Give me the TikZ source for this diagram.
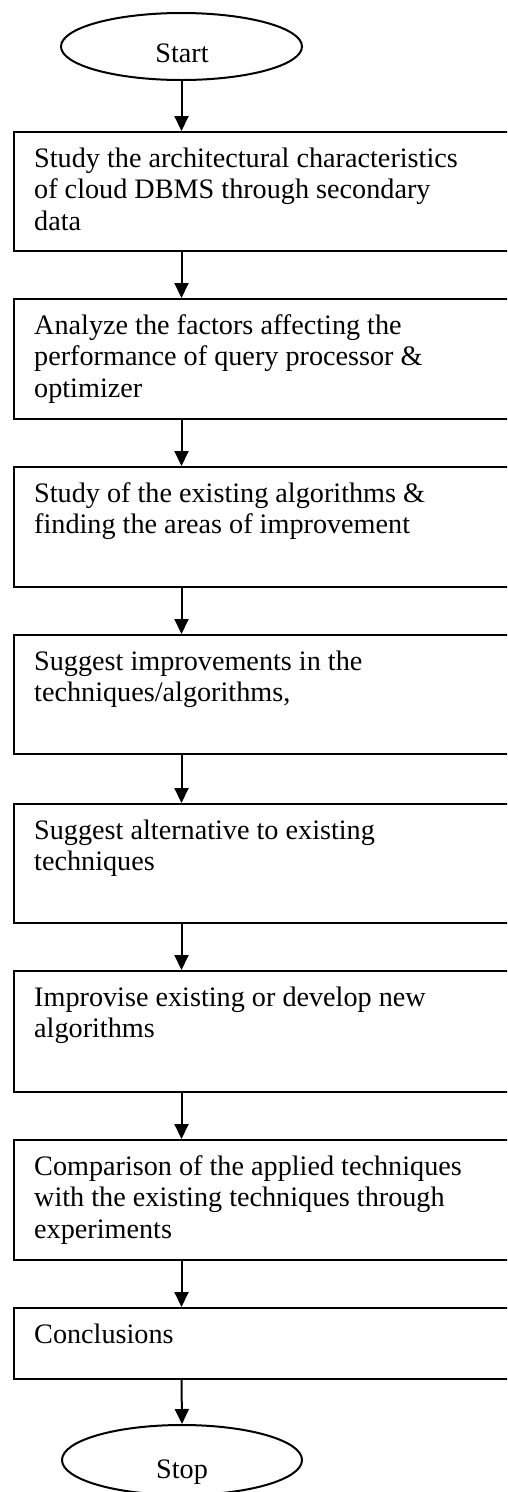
\documentclass[tikz,border=0pt]{standalone}
\usepackage{fontspec}
\setmainfont{Liberation Serif}
\usetikzlibrary{shapes.geometric,arrows.meta}
\newcommand{\steptext}[1]{\begin{tabular}[t]{@{}l@{}}#1\end{tabular}}
\begin{document}
\begin{tikzpicture}[x=1pt,y=-1pt,
  stepbox/.style={draw,line width=1.5pt,rectangle,anchor=north west,inner sep=0pt},
  term/.style={draw,line width=2pt,ellipse,inner sep=0pt},
  txt/.style={anchor=base west,inner sep=0pt,font=\fontsize{28.2}{31.5}\selectfont},
  ttxt/.style={anchor=base,inner sep=0pt,font=\fontsize{28.2}{31.5}\selectfont},
  flow/.style={line width=2pt,-{Triangle[width=14pt,length=15pt]}}]
\useasboundingbox (0,0) rectangle (507,1492);
\clip (0,0) rectangle (507,1492);
\node[term,minimum width=241pt,minimum height=67pt] (start) at (181.5,46.5) {};
\node[ttxt] (startlbl) at (182,62) {Start};
\node[stepbox,minimum width=510pt,minimum height=119pt] (b1) at (13,131) {};
\node[stepbox,minimum width=510pt,minimum height=120pt] (b2) at (13,298) {};
\node[stepbox,minimum width=510pt,minimum height=120pt] (b3) at (13,466) {};
\node[stepbox,minimum width=510pt,minimum height=119pt] (b4) at (13,634) {};
\node[stepbox,minimum width=510pt,minimum height=119pt] (b5) at (13,803) {};
\node[stepbox,minimum width=510pt,minimum height=121pt] (b6) at (13,970) {};
\node[stepbox,minimum width=510pt,minimum height=120pt] (b7) at (13,1139) {};
\node[stepbox,minimum width=510pt,minimum height=71pt] (b8) at (13,1307) {};
\node[term,minimum width=240pt,minimum height=70pt] (stop) at (182,1460) {};
\node[ttxt] (stoplbl) at (182,1478) {Stop};
\node[txt] (t1) at (34,167) {\steptext{Study the architectural characteristics\\of cloud DBMS through secondary\\data}};
\node[txt] (t2) at (34,334) {\steptext{Analyze the factors affecting the\\performance of query processor \&\\optimizer}};
\node[txt] (t3) at (34,502) {\steptext{Study of the existing algorithms \&\\finding the areas of improvement}};
\node[txt] (t4) at (34,670) {\steptext{Suggest improvements in the\\techniques/algorithms,}};
\node[txt] (t5) at (34,839) {\steptext{Suggest alternative to existing\\techniques}};
\node[txt] (t6) at (34,1006) {\steptext{Improvise existing or develop new\\algorithms}};
\node[txt] (t7) at (34,1175) {\steptext{Comparison of the applied techniques\\with the existing techniques through\\experiments}};
\node[txt] (t8) at (34,1343) {\steptext{Conclusions}};
\draw[flow] (start.south) -- (start.south |- b1.north);
\draw[flow] (start.south |- b1.south) -- (start.south |- b2.north);
\draw[flow] (start.south |- b2.south) -- (start.south |- b3.north);
\draw[flow] (start.south |- b3.south) -- (start.south |- b4.north);
\draw[flow] (start.south |- b4.south) -- (start.south |- b5.north);
\draw[flow] (start.south |- b5.south) -- (start.south |- b6.north);
\draw[flow] (start.south |- b6.south) -- (start.south |- b7.north);
\draw[flow] (start.south |- b7.south) -- (start.south |- b8.north);
\draw[flow] (start.south |- b8.south) -- (stop.north);
\end{tikzpicture}
\end{document}
